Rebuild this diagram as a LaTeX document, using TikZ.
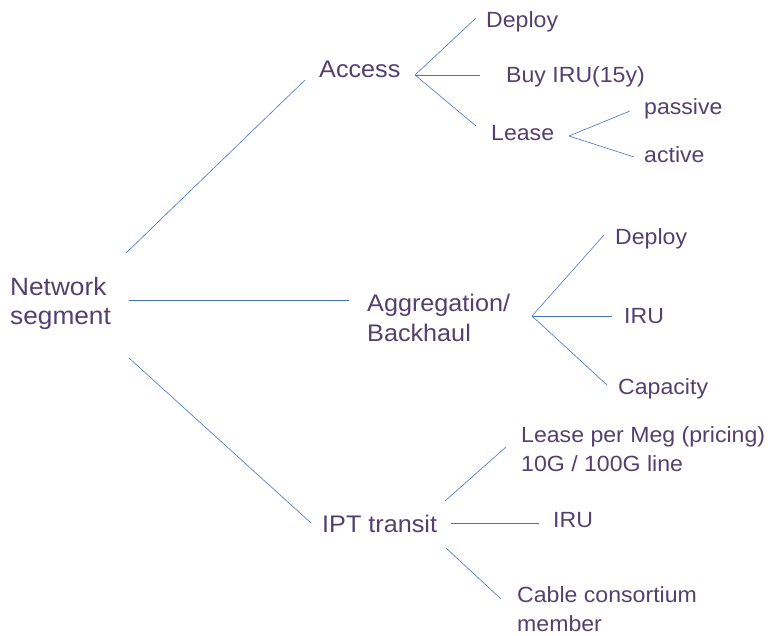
\documentclass[tikz,border=0pt]{standalone}
\usepackage{fontspec}
\setmainfont{Liberation Sans}[FakeStretch=1.05]

\definecolor{txtpurple}{HTML}{54406E}
\definecolor{linkblue}{HTML}{4472C4}

\begin{document}
\begin{tikzpicture}
        [x=1pt,y=-1pt,every node/.style={anchor=base west,inner sep=0,align=left,text=txtpurple},
        link/.style={draw=linkblue,line width=0.6pt},
        rootnode/.style={font=\fontsize{25}{29}\selectfont},
        midnode/.style={font=\fontsize{24}{30}\selectfont},
        leafnode/.style={font=\fontsize{22}{29}\selectfont}]

        \useasboundingbox (0,0) rectangle (768,635);

        % texts (multi-line ones sit on their last line)
        \node[rootnode] (net) at (10, 324) {Network\\segment};
        \node[midnode] (acc) at (319, 77) {Access};
        \node[midnode] (agg) at (367, 341) {Aggregation/\\Backhaul};
        \node[midnode] (ipt) at (322, 532) {IPT transit};
        \node[leafnode] (accdep) at (486, 27) {Deploy};
        \node[leafnode] (accbuy) at (506, 82) {Buy IRU(15y)};
        \node[leafnode] (acclea) at (491, 140) {Lease};
        \node[leafnode] (pass) at (644, 114) {passive};
        \node[leafnode] (act) at (644, 162) {active};
        \node[leafnode] (aggdep) at (615, 244) {Deploy};
        \node[leafnode] (aggiru) at (624, 323) {IRU};
        \node[leafnode] (aggcap) at (618, 394) {Capacity};
        \node[leafnode] (iptlea) at (521, 471) {Lease per Meg (pricing)\\10G / 100G line};
        \node[leafnode] (iptiru) at (553, 527) {IRU};
        \node[leafnode] (iptcab) at (517, 631) {Cable consortium\\member};

        % line ends
        \coordinate (r1) at (126, 253);
        \coordinate (r2) at (129, 300);
        \coordinate (r3) at (129, 358);
        \coordinate (a1) at (305, 80);
        \coordinate (a2) at (349, 300);
        \coordinate (a3) at (311, 523);
        \coordinate (accfan) at (415, 75);
        \coordinate (accfan1) at (476, 18);
        \coordinate (accfan2) at (480, 75);
        \coordinate (accfan3) at (476, 126);
        \coordinate (leafan) at (569, 136);
        \coordinate (leafan1) at (630, 111);
        \coordinate (leafan2) at (634, 157);
        \coordinate (aggfan) at (532, 316);
        \coordinate (aggfan1) at (604, 235);
        \coordinate (aggfan2) at (612, 316);
        \coordinate (aggfan3) at (607, 385);
        \coordinate (iptfan1) at (445, 501);
        \coordinate (iptfan1e) at (506, 447);
        \coordinate (iptfan2) at (451, 523);
        \coordinate (iptfan2e) at (539, 523);
        \coordinate (iptfan3) at (446, 548);
        \coordinate (iptfan3e) at (501, 599);

        \draw[link] (r1) -- (a1);
        \draw[link] (r2) -- (a2);
        \draw[link] (r3) -- (a3);
        \draw[link] (accfan) -- (accfan1);
        \draw[link] (accfan) -- (accfan2);
        \draw[link] (accfan) -- (accfan3);
        \draw[link] (leafan) -- (leafan1);
        \draw[link] (leafan) -- (leafan2);
        \draw[link] (aggfan) -- (aggfan1);
        \draw[link] (aggfan) -- (aggfan2);
        \draw[link] (aggfan) -- (aggfan3);
        \draw[link] (iptfan1) -- (iptfan1e);
        \draw[link] (iptfan2) -- (iptfan2e);
        \draw[link] (iptfan3) -- (iptfan3e);

      \end{tikzpicture}
\end{document}
